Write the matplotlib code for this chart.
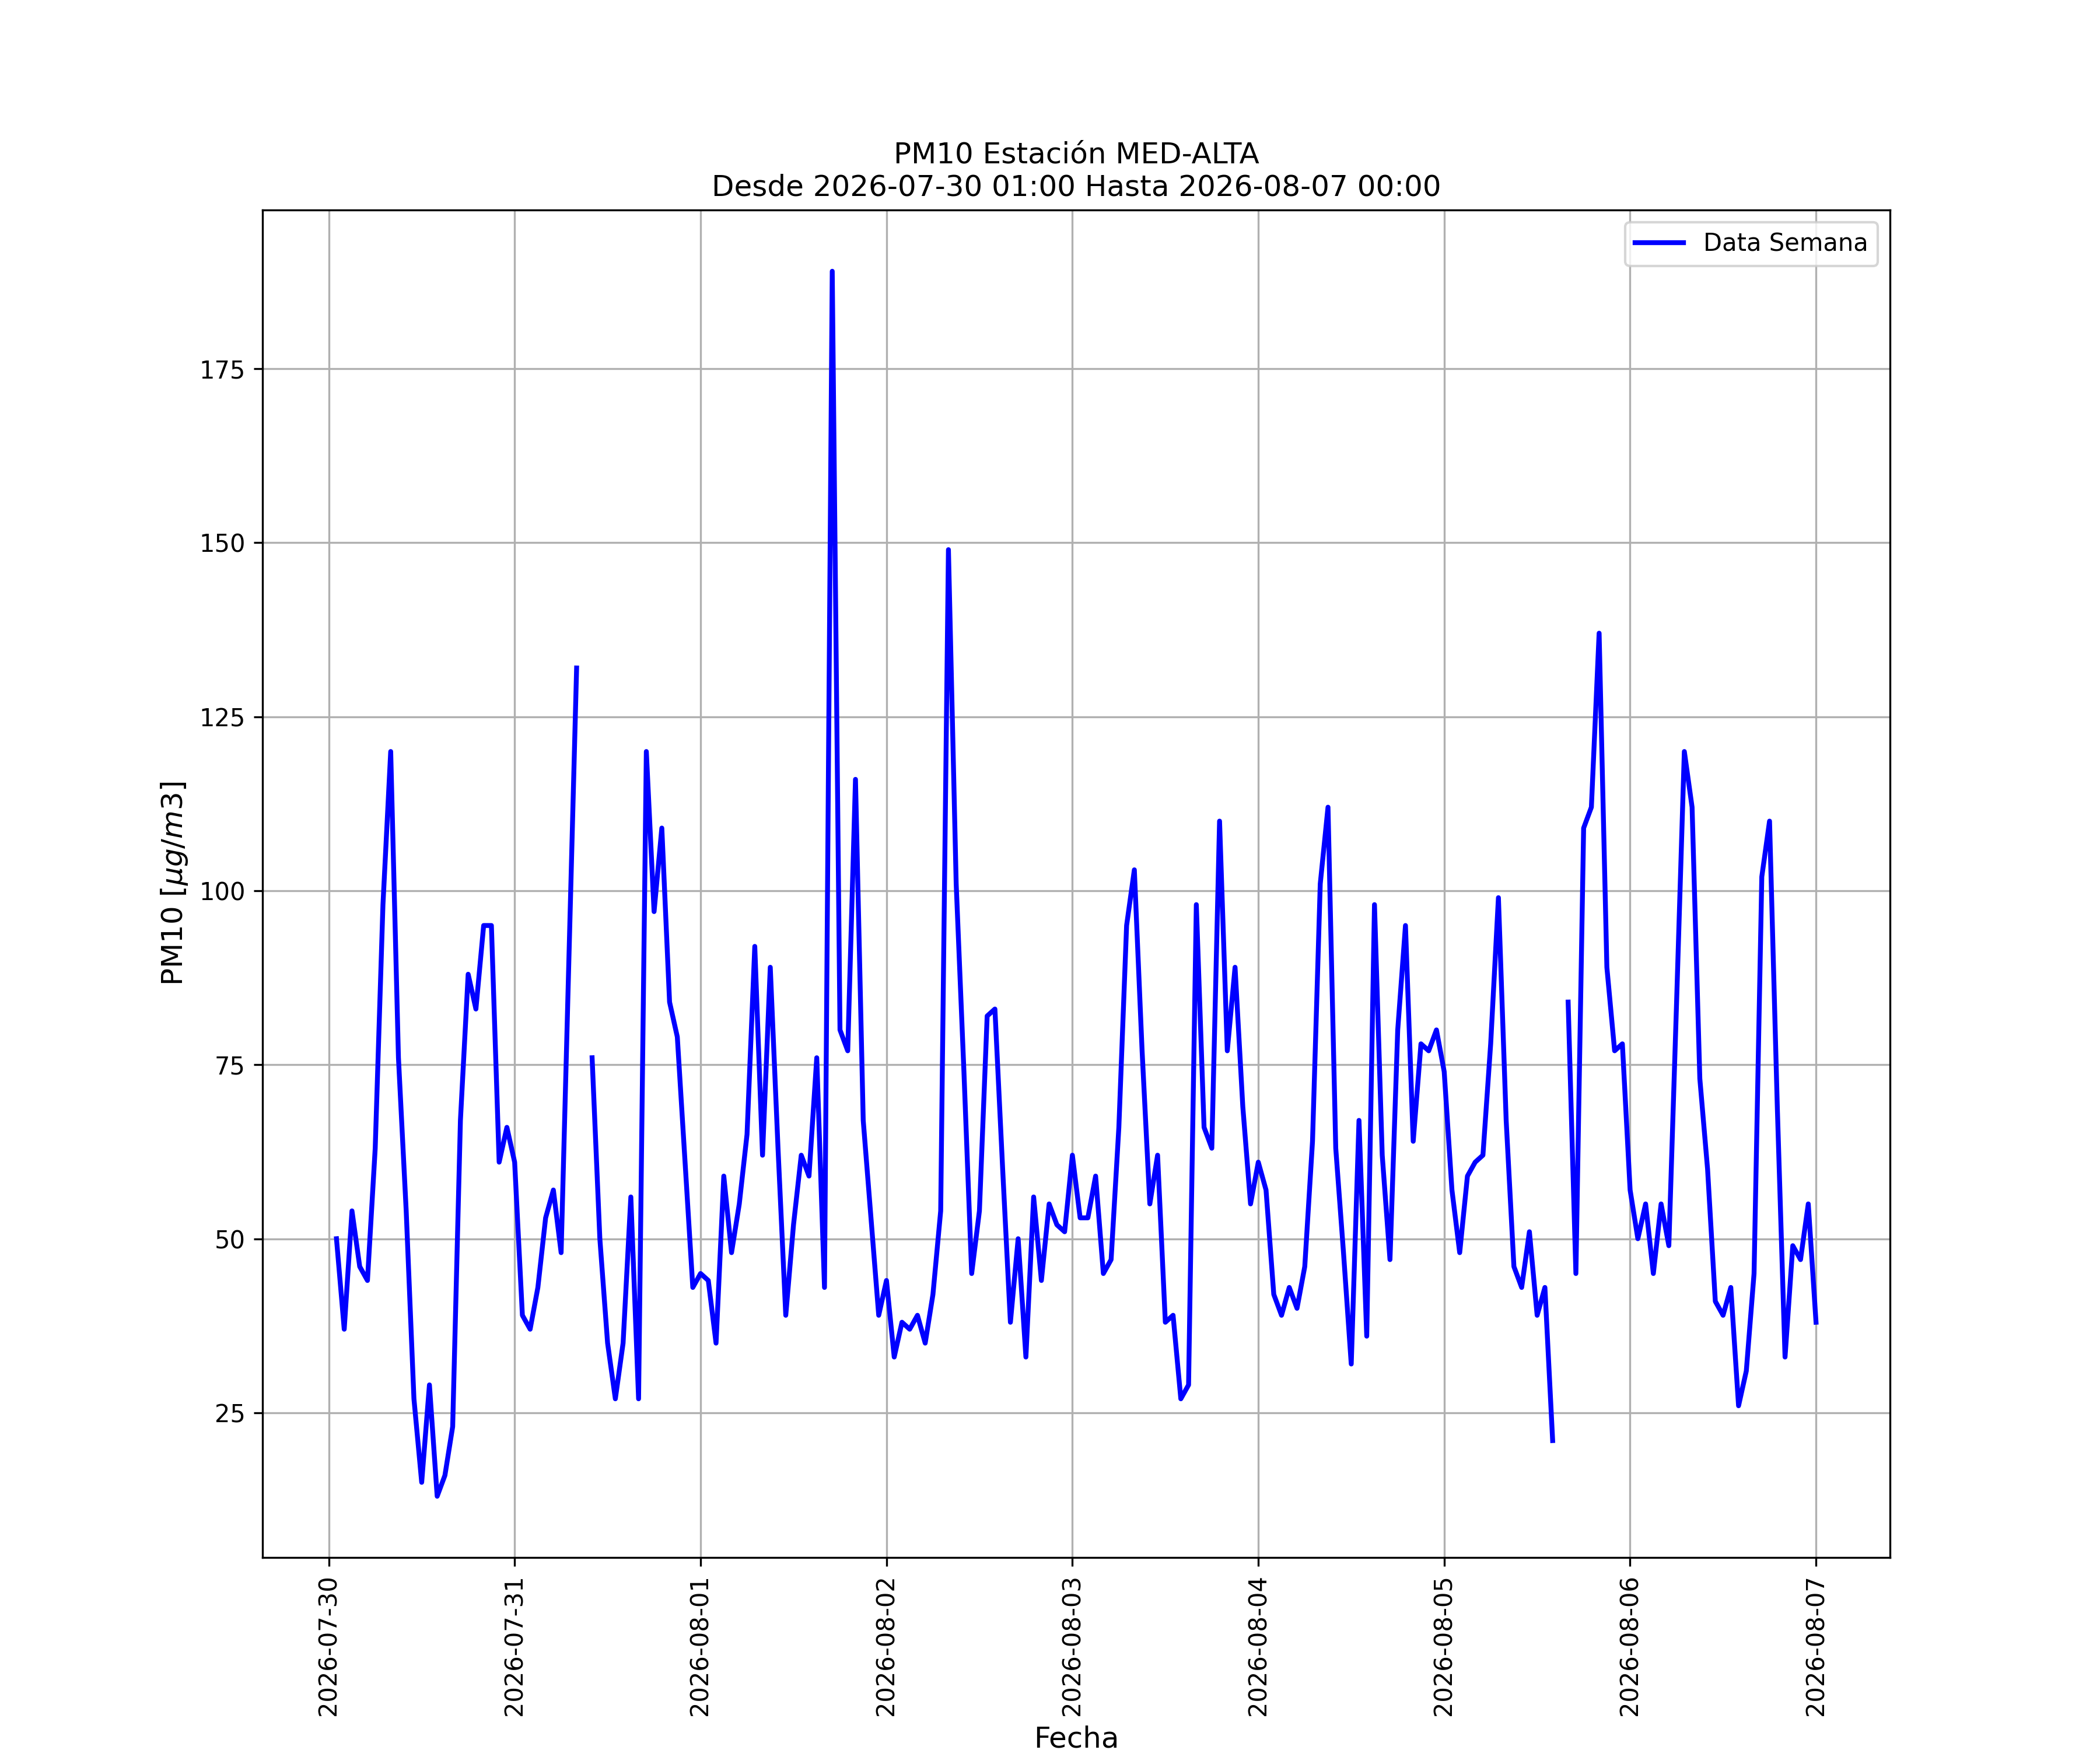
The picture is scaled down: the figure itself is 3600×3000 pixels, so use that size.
import numpy as np
import pandas as pd
import matplotlib
matplotlib.use("Agg")
import matplotlib.pyplot as plt
import matplotlib.dates as mdates

nan = np.nan

# hourly PM10 readings, one list per day
day_0730 = [50, 37, 54, 46, 44, 63, 98, 120, 76, 54, 27, 15, 29, 13, 16, 23,
            67, 88, 83, 95, 95, 61, 66]  # starts at 01:00
day_0731 = [61, 39, 37, 43, 53, 57, 48, 90, 132, nan, 76, 50, 35, 27, 35, 56,
            27, 120, 97, 109, 84, 79, 61, 43]
day_0801 = [45, 44, 35, 59, 48, 55, 65, 92, 62, 89, 63, 39, 52, 62, 59, 76,
            43, 189, 80, 77, 116, 67, 53, 39]
day_0802 = [44, 33, 38, 37, 39, 35, 42, 54, 149, 101, 74, 45, 54, 82, 83, 60,
            38, 50, 33, 56, 44, 55, 52, 51]
day_0803 = [62, 53, 53, 59, 45, 47, 66, 95, 103, 77, 55, 62, 38, 39, 27, 29,
            98, 66, 63, 110, 77, 89, 69, 55]
day_0804 = [61, 57, 42, 39, 43, 40, 46, 64, 101, 112, 63, 48, 32, 67, 36, 98,
            62, 47, 80, 95, 64, 78, 77, 80]
day_0805 = [74, 57, 48, 59, 61, 62, 78, 99, 67, 46, 43, 51, 39, 43, 21, nan,
            84, 45, 109, 112, 137, 89, 77, 78]
day_0806 = [57, 50, 55, 45, 55, 49, 84, 120, 112, 73, 60, 41, 39, 43, 26, 31,
            45, 102, 110, 69, 33, 49, 47, 55]
day_0807 = [38]  # 00:00

fecha_inicio = "2026-07-30 01:00"
fecha_fin = "2026-08-07 00:00"
estacion = "MED-ALTA"

pm10 = (day_0730 + day_0731 + day_0801 + day_0802 + day_0803 + day_0804
        + day_0805 + day_0806 + day_0807)
fechas = pd.date_range(fecha_inicio, fecha_fin, freq="h")

fig, ax = plt.subplots(figsize=(12, 10), dpi=300)
ax.plot(fechas, pm10, color="blue", linewidth=2, label="Data Semana")

ax.set_title("PM10 Estación " + estacion + "\nDesde " + fecha_inicio
             + " Hasta " + fecha_fin, fontsize=12)
ax.set_xlabel("Fecha", fontsize=12)
ax.set_ylabel(r"PM10 [$\mu g/m3$]", fontsize=12)
ax.xaxis.set_major_locator(mdates.DayLocator())
ax.xaxis.set_major_formatter(mdates.DateFormatter("%Y-%m-%d"))
plt.setp(ax.get_xticklabels(), rotation=90)
ax.grid(True)
ax.legend(loc="upper right")

fig.savefig("out.png", dpi=300)
